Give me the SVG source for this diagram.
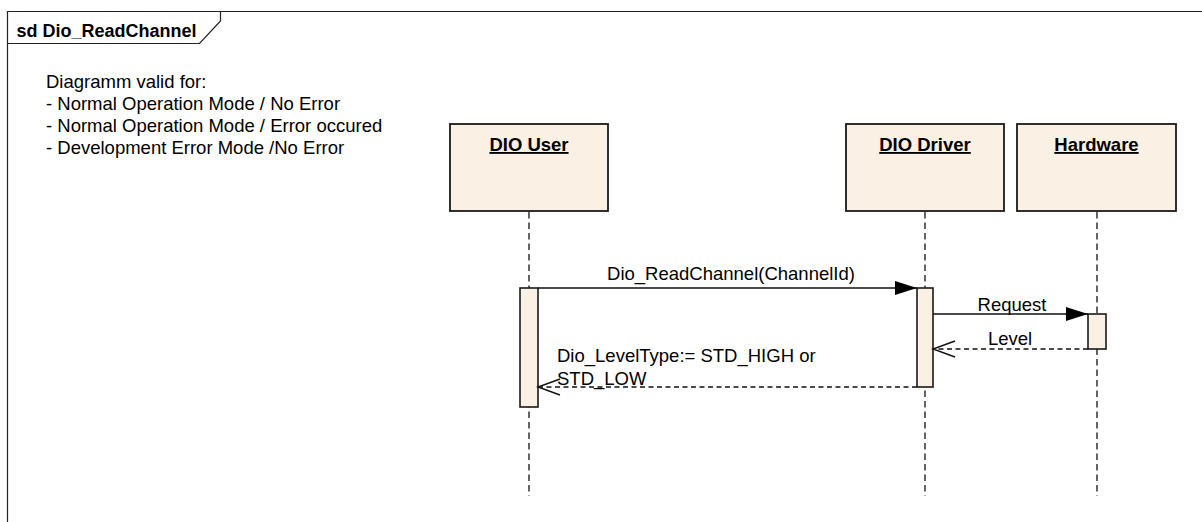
<svg xmlns="http://www.w3.org/2000/svg" width="1202" height="522" viewBox="0 0 1202 522">
  <style>
    text { font-family: "Liberation Sans", Arial, sans-serif; font-size: 18.5px; fill: #000; }
    .title { font-weight: bold; font-size: 18px; }
    .head { font-weight: bold; text-decoration: underline; text-anchor: middle; }
    .mid { text-anchor: middle; }
    .frame { fill: none; stroke: #222; stroke-width: 1.2; }
    .box { fill: #FAF0E3; stroke: #1a1a1a; stroke-width: 1.8; }
    .act { fill: #FAF0E3; stroke: #1a1a1a; stroke-width: 1.6; }
    .life { fill: none; stroke: #111; stroke-width: 1.3; stroke-dasharray: 6.5 4; }
    .call { fill: none; stroke: #111; stroke-width: 1.3; }
    .reply { fill: none; stroke: #111; stroke-width: 1.3; stroke-dasharray: 5 3.5; }
  </style>
  <defs>
    <marker id="filled" markerUnits="userSpaceOnUse" markerWidth="24" markerHeight="16" refX="22" refY="7" orient="auto">
      <path d="M0,0 L22,7 L0,14 Z" fill="#000"/>
    </marker>
    <marker id="open" markerUnits="userSpaceOnUse" markerWidth="26" markerHeight="20" refX="23" refY="9" orient="auto">
      <path d="M1,1 L23,9 L1,17" fill="none" stroke="#111" stroke-width="1.4"/>
    </marker>
  </defs>

  <rect width="1202" height="522" fill="#fff"/>

  <!-- sequence frame with name tab -->
  <g id="frame">
    <path class="frame" d="M7.5,530 V11.5 H1210"/>
    <path class="frame" d="M7.5,43.5 H199.5 L220.5,21 V11.5"/>
    <text class="title" x="16.5" y="37">sd Dio_ReadChannel</text>
  </g>

  <!-- note -->
  <g id="note">
    <text x="46" y="88">Diagramm valid for:</text>
    <text x="46" y="110">- Normal Operation Mode / No Error</text>
    <text x="46" y="132">- Normal Operation Mode / Error occured</text>
    <text x="46" y="154">- Development Error Mode /No Error</text>
  </g>

  <!-- lifelines -->
  <g id="dio-user">
    <line class="life" x1="529" y1="212" x2="529" y2="496"/>
    <rect class="box" x="450" y="124" width="158" height="87"/>
    <text class="head" x="529" y="151">DIO User</text>
    <rect class="act" x="520" y="288" width="18" height="119"/>
  </g>

  <g id="dio-driver">
    <line class="life" x1="925" y1="212" x2="925" y2="496"/>
    <rect class="box" x="846" y="124" width="158" height="87"/>
    <text class="head" x="925" y="151">DIO Driver</text>
    <rect class="act" x="917" y="288" width="16" height="99"/>
  </g>

  <g id="hardware">
    <line class="life" x1="1097" y1="212" x2="1097" y2="496"/>
    <rect class="box" x="1017" y="124" width="159" height="87"/>
    <text class="head" x="1096.5" y="151">Hardware</text>
    <rect class="act" x="1088" y="314" width="18" height="35"/>
  </g>

  <!-- messages -->
  <g id="connectors">
    <line class="call" x1="538" y1="288" x2="917" y2="288" marker-end="url(#filled)"/>
    <text class="mid" x="731" y="280">Dio_ReadChannel(ChannelId)</text>

    <line class="call" x1="933" y1="314" x2="1088" y2="314" marker-end="url(#filled)"/>
    <text class="mid" x="1012" y="311">Request</text>

    <line class="reply" x1="1088" y1="349" x2="933" y2="349" marker-end="url(#open)"/>
    <text class="mid" x="1010" y="345">Level</text>

    <line class="reply" x1="917" y1="387" x2="538" y2="387" marker-end="url(#open)"/>
    <text x="557" y="362">Dio_LevelType:= STD_HIGH or</text>
    <text x="557" y="385">STD_LOW</text>
  </g>
</svg>
